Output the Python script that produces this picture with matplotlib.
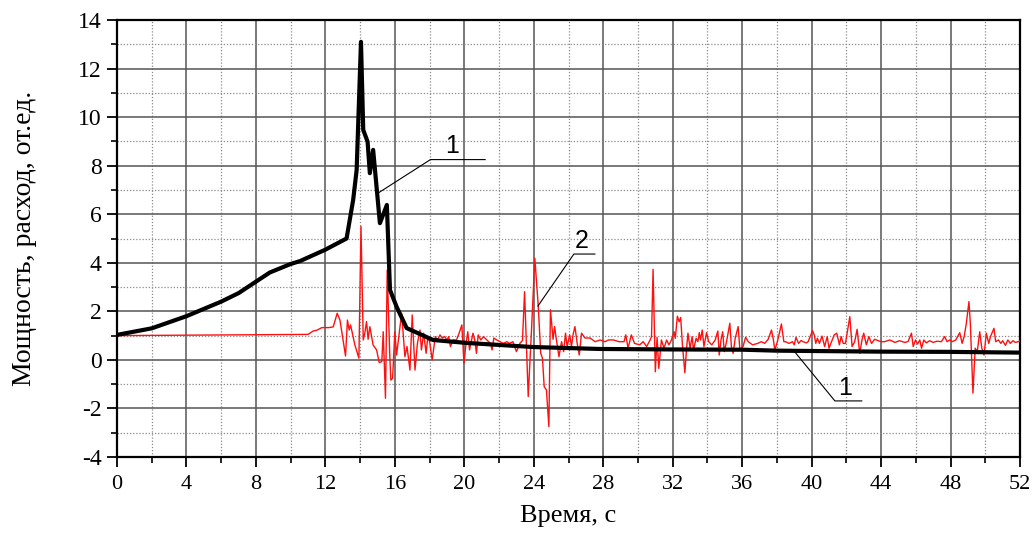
import matplotlib
matplotlib.use("Agg")
import matplotlib.pyplot as plt
from matplotlib.ticker import MultipleLocator

plt.rcParams['axes.unicode_minus'] = False

# ---- Data ----
t_power = [0, 2, 4, 6, 7, 8.8, 10, 10.54, 11.97, 13.22, 13.6, 13.8, 14.05, 14.18, 14.43,
           14.56, 14.75, 15.14, 15.54, 15.72, 16.1, 16.68, 18.2, 20.1, 23.95, 27.8,
           32, 36, 37.98, 43.9, 47.96, 52]
p_power = [1.03, 1.3, 1.8, 2.4, 2.75, 3.6, 3.95, 4.07, 4.53, 5.0, 6.59, 7.82, 13.1, 9.47, 8.99,
           7.69, 8.65, 5.63, 6.38, 2.88, 2.19, 1.31, 0.82, 0.7, 0.53, 0.45,
           0.43, 0.42, 0.38, 0.34, 0.33, 0.3]

t_flow = [0, 11.0, 11.3, 11.5, 11.8, 12.2, 12.45, 12.68, 12.84, 13.16, 13.27, 13.37, 13.45, 13.7,
          13.93, 14.05, 14.18, 14.27, 14.37, 14.46, 14.56, 14.75, 14.95, 15.1, 15.25, 15.33,
          15.46, 15.56, 15.71, 15.77, 15.87, 16.0, 16.1, 16.39, 16.58, 16.7, 16.87, 17.0, 17.16,
          17.3, 17.45, 17.53, 17.66, 17.8, 17.9, 18.0, 18.15, 18.33, 18.45, 18.6, 18.74, 18.87,
          19.0, 19.1, 19.2, 19.35, 19.55, 19.7, 19.86, 19.98, 20.1, 20.2, 20.3, 20.5, 20.6,
          20.7, 20.8, 20.95, 21.1, 21.3, 21.5, 21.6, 21.7, 21.88, 22.05, 22.25, 22.45, 22.6,
          22.8, 23.0, 23.2, 23.35, 23.47, 23.68, 23.87, 24.06, 24.26, 24.4, 24.5, 24.6, 24.73,
          24.87, 24.96, 25.11, 25.2, 25.3, 25.45, 25.6, 25.72, 25.83, 25.92, 26.07, 26.17,
          26.26, 26.37, 26.5, 26.62, 26.75, 26.95, 27.25, 27.53, 27.82, 28.1, 28.3, 28.6,
          28.9, 29.2, 29.3, 29.43, 29.62, 29.8, 30.1, 30.3, 30.5, 30.7, 30.78, 30.87, 31.0,
          31.1, 31.2, 31.35, 31.5, 31.65, 31.78, 31.93, 32.08, 32.15, 32.27, 32.37, 32.46,
          32.56, 32.7, 32.8, 32.88, 33.0, 33.12, 33.2, 33.35, 33.45, 33.53, 33.6, 33.7, 33.8,
          33.95, 34.07, 34.25, 34.45, 34.6, 34.68, 34.78, 34.88, 34.97, 35.1, 35.29, 35.38,
          35.48, 35.6, 35.77, 35.87, 36.05, 36.2, 36.35, 36.6, 36.9, 37.1, 37.3, 37.5, 37.69,
          37.8, 37.88, 38.0, 38.1, 38.26, 38.4, 38.5, 38.7, 38.9, 39.0, 39.1, 39.25, 39.4,
          39.5, 39.7, 39.8, 40.05, 40.15, 40.24, 40.33, 40.45, 40.6, 40.75, 40.9, 41.0, 41.15,
          41.3, 41.45, 41.6, 41.7, 41.82, 41.95, 42.2, 42.33, 42.48, 42.62, 42.77, 42.9, 43.0,
          43.15, 43.3, 43.45, 43.63, 43.8, 44.0, 44.2, 44.5, 44.8, 45.07, 45.36, 45.55, 45.75,
          45.85, 45.98, 46.1, 46.23, 46.33, 46.46, 46.6, 46.8, 47.0, 47.22, 47.47, 47.66,
          47.8, 47.95, 48.1, 48.3, 48.53, 48.67, 48.79, 48.91, 49.06, 49.14, 49.29, 49.42,
          49.54, 49.68, 49.8, 49.93, 50.06, 50.2, 50.3, 50.5, 50.6, 50.76, 50.9, 51.0, 51.16,
          51.3, 51.44, 51.6, 51.73, 51.9, 52.0]
p_flow = [1.0, 1.05, 1.19, 1.22, 1.33, 1.33, 1.36, 1.92, 1.64, 0.16, 1.64, 1.23, 1.44, 0.61,
          0.07, 5.5, 0.82, 1.1, 1.58, 0.85, 1.37, 0.61, 0.41, -0.11, -0.07, 1.16,
          -1.58, 3.7, 0.13, -0.83, -0.76, 1.16, 0.2, 1.92, 0.13, 0.55, -0.42, 1.85, -0.42,
          0.68, 1.23, 0.41, 1.1, 0.27, 0.96, 0.75, 0.0, 0.96, 0.82, 1.03, 0.9, 0.96,
          0.82, 0.96, 0.55, 0.82, 0.82, 1.1, 1.44, -0.14, 0.68, 1.16, 0.41, 1.1, 0.82,
          0.27, 1.03, 0.82, 0.96, 0.82, 0.68, 0.41, 0.9, 0.82, 0.75, 0.68, 0.75, 0.68,
          0.75, 0.34, 0.68, 0.8, 2.81, -1.51, 1.23, 4.19, 2.2, 0.27, 0.07, -1.1, -1.24,
          -2.75, 2.06, 0.85, 1.37, 0.85, 0.13, 0.75, 0.34, 1.1, 0.55, 1.03, 0.55,
          1.03, 1.37, 0.68, 0.2, 1.1, 0.9, 0.9, 0.75, 0.82, 0.75, 0.82, 0.82,
          0.75, 0.75, 1.03, 0.48, 1.03, 0.68, 0.62, 0.75, 0.55, 0.82, 0.96, 3.73, -0.49,
          0.93, -0.35, 0.82, 0.48, 0.82, 0.62, 0.82, 1.16, 0.89, 1.8, 1.57, 1.75,
          0.62, -0.53, 0.48, 1.1, 0.48, 0.96, 0.41, 0.89, 0.75, 1.12, 0.82, 1.23, 0.55,
          1.12, 0.75, 0.62, 0.82, 1.19, 0.2, 0.82, 1.16, 0.34, 0.75, 1.51, 0.55,
          0.27, 0.89, 1.37, 0.41, 0.55, 0.93, 0.75, 0.62, 0.68, 0.75, 0.68, 0.85, 1.23,
          0.82, 0.41, 0.68, 0.96, 1.48, 0.75, 0.75, 0.68, 0.75, 0.62, 0.93, 0.68, 0.8,
          0.75, 0.7, 0.75, 1.2, 1.03, 0.68, 0.89, 0.68, 0.98, 0.55, 0.96, 0.48, 0.75,
          1.03, 1.1, 0.62, 0.96, 0.68, 0.68, 1.78, 0.55, 0.75, 1.26, 0.27, 0.82, 1.1,
          0.62, 0.96, 0.68, 0.85, 0.8, 0.75, 0.75, 0.82, 0.72, 0.79, 0.72, 0.75, 1.1,
          0.55, 0.82, 0.65, 0.82, 0.48, 0.82, 0.7, 0.79, 0.72, 0.77, 0.75, 0.96,
          0.75, 0.82, 0.75, 0.82, 1.12, 0.68, 0.98, 1.51, 2.4, 1.51, -1.37, 0.48,
          0.34, 1.16, 0.48, 0.2, 1.1, 0.68, 0.96, 1.3, 0.75, 0.82, 0.68, 0.79, 0.6,
          0.82, 0.68, 0.79, 0.72, 0.75, 0.78]

x_ticks = [0, 4, 8, 12, 16, 20, 24, 28, 32, 36, 40, 44, 48, 52]
y_ticks = [-4, -2, 0, 2, 4, 6, 8, 10, 12, 14]

# annotation leaders: (label, leader points x, leader points y, text x, text y)
annotations = [
    ("1", [15.1, 18.05, 21.2], [6.9, 8.25, 8.25], 19.3, 8.3),
    ("2", [24.24, 26.31, 27.52], [2.22, 4.36, 4.36], 26.75, 4.4),
    ("1", [39.03, 41.34, 42.89], [0.33, -1.69, -1.69], 41.95, -1.65),
]

# ---- Figure ----
fig = plt.figure(figsize=(10.35, 5.35), dpi=100)
ax = fig.add_axes([117 / 1035, 1 - 457 / 535, (1020 - 117) / 1035, (457 - 20) / 535])

ax.set_xlim(0, 52)
ax.set_ylim(-4, 14)
ax.xaxis.set_major_locator(MultipleLocator(4))
ax.xaxis.set_minor_locator(MultipleLocator(2))
ax.yaxis.set_major_locator(MultipleLocator(2))
ax.yaxis.set_minor_locator(MultipleLocator(1))

ax.grid(which='major', color='#555555', linewidth=1.1, linestyle='-')
ax.grid(which='minor', color='#8a8a8a', linewidth=0.9, linestyle=(0, (1, 1.5)))
ax.set_axisbelow(True)

ax.plot(t_flow, p_flow, color='#ff1010', linewidth=1.0, zorder=3)
ax.plot(t_power, p_power, color='black', linewidth=3.0, zorder=4, solid_joinstyle='round')

for lab, lx, ly, tx, ty in annotations:
    ax.plot(lx, ly, color='black', linewidth=0.8, zorder=5)
    ax.text(tx, ty, lab, fontsize=18, family='Liberation Sans', ha='center', va='bottom', zorder=6)

serif = 'Liberation Serif'
ax.set_xticks(x_ticks)
ax.set_yticks(y_ticks)
ax.set_xticklabels([str(v) for v in x_ticks], fontsize=16, family=serif)
ax.set_yticklabels([str(v) for v in y_ticks], fontsize=17, family=serif)

ax.tick_params(which='major', direction='out', length=7, width=1.3)
ax.tick_params(axis='x', which='major', pad=6)
ax.tick_params(axis='y', which='major', pad=4)
ax.tick_params(which='minor', direction='out', length=4, width=1.2)
ax.tick_params(top=False, right=False, which='both')

for s in ax.spines.values():
    s.set_linewidth(1.6)
    s.set_color('black')

ax.set_xlabel('Время, с', fontsize=19, family=serif)
ax.set_ylabel('Мощность, расход, от.ед.', fontsize=20, family=serif)
ax.xaxis.set_label_coords(0.5, -0.11)
ax.yaxis.set_label_coords(-0.089, 0.5)

fig.savefig('out.png', dpi=100)
